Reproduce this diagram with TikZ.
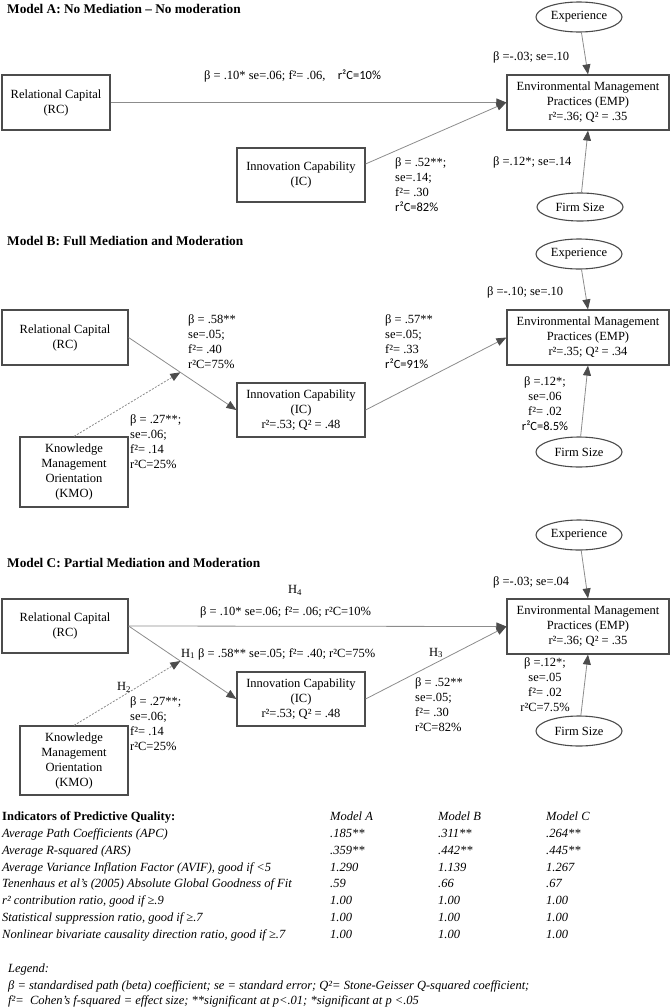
\documentclass[tikz,border=0pt]{standalone}
\usepackage{fontspec}
\setmainfont{Liberation Serif}
\newfontfamily\sanf{Carlito}
\usetikzlibrary{arrows.meta,shapes.geometric,calc}
\newcommand\dfont{\fontsize{12.5}{15}\selectfont}
\newcommand\tfont{\fontsize{12.5}{15}\selectfont}
\begin{document}
\begin{tikzpicture}[x=1pt,y=-1pt,
 box/.style={draw=black!70, line width=1.2pt, align=center, inner sep=0pt, font=\dfont},
 oval/.style={ellipse, draw=black!70, line width=1.1pt, inner sep=0pt, minimum width=86pt, minimum height=30pt, font=\dfont},
 conn/.style={draw=black!45, line width=0.8pt, -{Triangle[length=10pt,width=8pt,color=black!70]}},
 dconn/.style={conn, dash pattern=on 2pt off 1.5pt},
 lab/.style={font=\dfont, inner sep=0pt, anchor=west},
 blk/.style={font=\dfont, inner sep=0pt, align=left, anchor=north west},
 cblk/.style={font=\dfont, inner sep=0pt, align=center, anchor=north},
 ttl/.style={font=\fontsize{13.3}{16}\selectfont\bfseries, inner sep=0pt, anchor=west},
 tab/.style={font=\tfont\itshape, inner sep=0pt, anchor=base west},
 tabh/.style={font=\tfont\bfseries, inner sep=0pt, anchor=base west},
]
\useasboundingbox (0,0) rectangle (671,1007);

% ---------------- Model A ----------------
\node[ttl] (tA) at (7,9) {Model A: No Mediation – No moderation};
\node[box, minimum width=108pt, minimum height=55pt] (rcA) at (56,102.5) {Relational Capital\\(RC)};
\node[box, minimum width=128pt, minimum height=54pt] (icA) at (301,175) {Innovation Capability\\(IC)};
\node[box, minimum width=162pt, minimum height=55pt] (empA) at (588,102.5) {Environmental Management\\Practices (EMP)\\r²=.36; Q² = .35};
\node[oval] (expA) at (579,17) {Experience};
\node[oval, minimum height=28pt] (firmA) at (580,207) {Firm Size};
\coordinate (icAo) at ($(icA.east)!0.4!(icA.north east)$);
\draw[conn] (rcA.east) -- (empA.west);
\draw[conn] (icAo) -- (empA.west);
\draw[conn] (expA) -- (empA.north);
\draw[conn] (firmA) -- (empA.south);
\node[lab] (lA1) at (204,76) {β = .10* se=.06; f²= .06,\quad{\sanf r²C=10\%}};
\node[blk] (lA2) at (395,157.5) {β = .52**;\\se=.14;\\f²= .30\\{\sanf r²C=82\%}};
\node[lab] (lA3) at (493,57) {β =-.03; se=.10};
\node[lab] (lA4) at (493,162) {β =.12*; se=.14};

% ---------------- Model B ----------------
\node[ttl] (tB) at (7,241) {Model B: Full Mediation and Moderation};
\node[box, minimum width=126pt, minimum height=55pt] (rcB) at (65,337.5) {Relational Capital\\(RC)};
\node[box, minimum width=128pt, minimum height=54pt] (icB) at (301,410) {Innovation Capability\\(IC)\\r²=.53; Q² = .48};
\node[box, minimum width=108pt, minimum height=70pt] (kmoB) at (74,472) {Knowledge\\Management\\Orientation\\(KMO)};
\node[box, minimum width=162pt, minimum height=55pt] (empB) at (588,337.5) {Environmental Management\\Practices (EMP)\\r²=.35; Q² = .34};
\node[oval] (expB) at (579,254) {Experience};
\node[oval] (firmB) at (579,452) {Firm Size};
\coordinate (mB) at ($(rcB.east)!0.48!(icB.west)$);
\draw[conn] (rcB.east) -- (icB.west);
\draw[conn] (icB.east) -- (empB.west);
\draw[dconn] (kmoB.north) -- (mB);
\draw[conn] (expB) -- (empB.north);
\draw[conn] (firmB) -- (empB.south);
\node[blk] (lB1) at (188,314.5) {β = .58**\\se=.05;\\f²= .40\\r²C=75\%};
\node[blk] (lB2) at (130,414.5) {β = .27**;\\se=.06;\\f²= .14\\r²C=25\%};
\node[blk] (lB3) at (385,314.5) {β = .57**\\se=.05;\\f²= .33\\{\sanf r²C=91\%}};
\node[lab] (lB4) at (487,292) {β =-.10; se=.10};
\node[cblk] (lB5) at (545,376.5) {β =.12*;\\se=.06\\f²= .02\\{\sanf r²C=8.5\%}};

% ---------------- Model C ----------------
\node[ttl] (tC) at (7,563) {Model C: Partial Mediation and Moderation};
\node[box, minimum width=126pt, minimum height=54pt] (rcC) at (65,626) {Relational Capital\\(RC)};
\node[box, minimum width=128pt, minimum height=54pt] (icC) at (301,699) {Innovation Capability\\(IC)\\r²=.53; Q² = .48};
\node[box, minimum width=108pt, minimum height=69pt] (kmoC) at (74,760.5) {Knowledge\\Management\\Orientation\\(KMO)};
\node[box, minimum width=162pt, minimum height=55pt] (empC) at (588,626.5) {Environmental Management\\Practices (EMP)\\r²=.36; Q² = .35};
\node[oval] (expC) at (579,535) {Experience};
\node[oval] (firmC) at (579,731) {Firm Size};
\coordinate (mC) at ($(rcC.east)!0.48!(icC.west)$);
\draw[conn] (rcC.east) -- (empC.west);
\draw[conn] (rcC.east) -- (icC.west);
\draw[conn] (icC.east) -- (empC.west);
\draw[dconn] (kmoC.north) -- (mC);
\draw[conn] (expC) -- (empC.north);
\draw[conn] (firmC) -- (empC.south);
\node[font=\dfont, inner sep=0pt] (h4) at (295,590) {H\textsubscript{4}};
\node[lab] (lC1) at (200,612) {β = .10* se=.06; f²= .06; r²C=10\%};
\node[lab] (lC2) at (181,654) {H\textsubscript{1} β = .58** se=.05; f²= .40; r²C=75\%};
\node[font=\dfont, inner sep=0pt] (h2) at (124,687) {H\textsubscript{2}};
\node[blk] (lC3) at (130,696.5) {β = .27**;\\se=.06;\\f²= .14\\r²C=25\%};
\node[font=\dfont, inner sep=0pt] (h3) at (436,653) {H\textsubscript{3}};
\node[blk] (lC4) at (415,677.5) {β = .52**\\se=.05;\\f²= .30\\r²C=82\%};
\node[lab] (lC5) at (493,582) {β =-.03; se=.04};
\node[cblk] (lC6) at (545,657.5) {β =.12*;\\se=.05\\f²= .02\\r²C=7.5\%};

% ---------------- Table ----------------
\node[tabh] (th0) at (2,820) {Indicators of Predictive Quality:};
\node[tab] (thA) at (330,820) {Model A};
\node[tab] (thB) at (438,820) {Model B};
\node[tab] (thC) at (546,820) {Model C};
\foreach \i/\yy/\lab/\va/\vb/\vc in {
 1/837/{Average Path Coefficients (APC)}/{.185**}/{.311**}/{.264**},
 2/854/{Average R-squared (ARS)}/{.359**}/{.442**}/{.445**},
 3/871/{Average Variance Inflation Factor (AVIF), good if <5}/{1.290}/{1.139}/{1.267},
 4/887/{Tenenhaus et al’s (2005) Absolute Global Goodness of Fit}/{.59}/{.66}/{.67},
 5/904/{r² contribution ratio, good if ≥.9}/{1.00}/{1.00}/{1.00},
 6/921/{Statistical suppression ratio, good if ≥.7}/{1.00}/{1.00}/{1.00},
 7/938/{Nonlinear bivariate causality direction ratio, good if ≥.7}/{1.00}/{1.00}/{1.00}}{
  \node[tab] (r\i) at (2,\yy) {\lab};
  \node[tab] (a\i) at (330,\yy) {\va};
  \node[tab] (b\i) at (438,\yy) {\vb};
  \node[tab] (c\i) at (546,\yy) {\vc};
}

% ---------------- Legend ----------------
\node[tab] (lg0) at (8,972) {Legend:};
\node[tab] (lg1) at (8,989) {β = standardised path (beta) coefficient; se = standard error; Q²= Stone-Geisser Q-squared coefficient;};
\node[tab] (lg2) at (8,1004) {f²=\ \ Cohen’s f-squared = effect size; **significant at p<.01; *significant at p <.05};
\end{tikzpicture}
\end{document}
